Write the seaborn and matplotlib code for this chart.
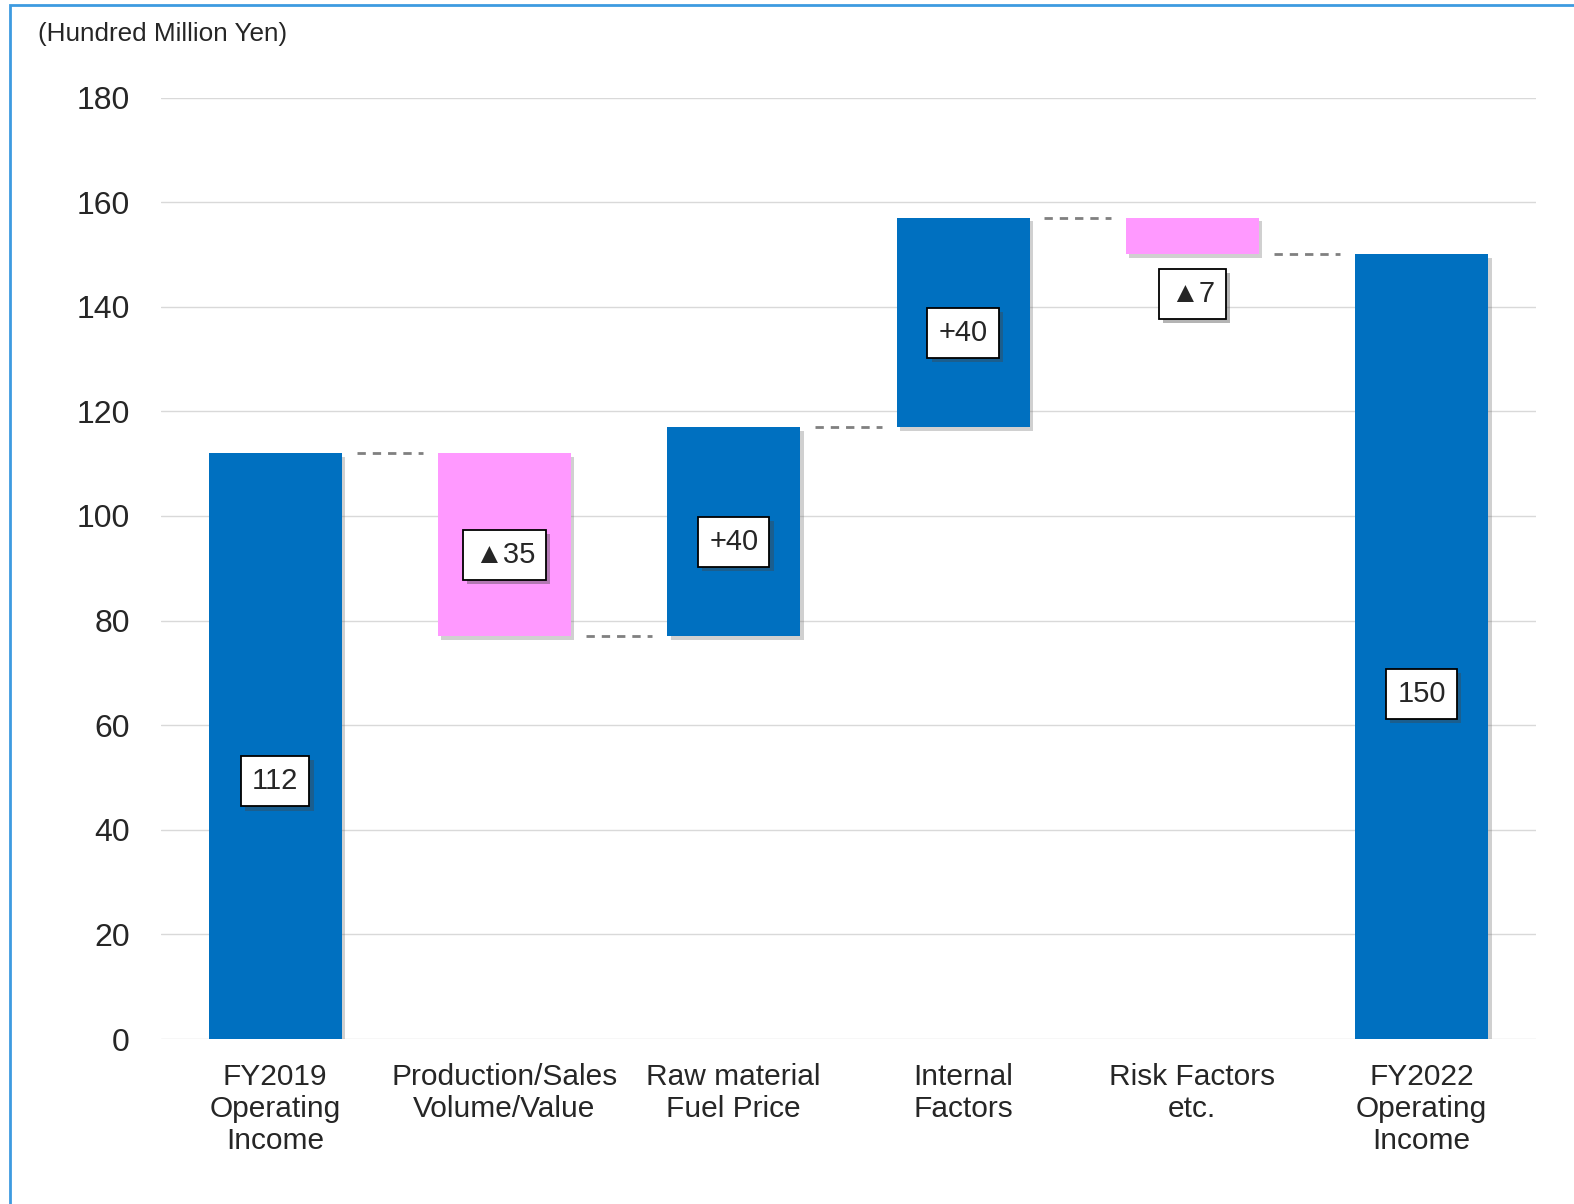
import matplotlib
matplotlib.use('Agg')
import matplotlib.pyplot as plt
import matplotlib.patheffects as pe
from matplotlib.patches import Rectangle
import seaborn as sns
import pandas as pd

# data
categories = ['FY2019\nOperating\nIncome', 'Production/Sales\nVolume/Value',
              'Raw material\nFuel Price', 'Internal\nFactors', 'Risk Factors\netc.',
              'FY2022\nOperating\nIncome']
changes = [112, -35, 40, 40, -7, 150]
is_total = [True, False, False, False, False, True]
labels = ['112', '▲35', '+40', '+40', '▲7', '150']
yticks = [0, 20, 40, 60, 80, 100, 120, 140, 160, 180]

BLUE = '#0070C0'
PINK = '#FF99FF'

# waterfall bases
bottoms, tops = [], []
running = 0
for v, tot in zip(changes, is_total):
    if tot:
        bottoms.append(0)
        tops.append(v)
        running = v
    else:
        new = running + v
        bottoms.append(min(running, new))
        tops.append(max(running, new))
        running = new
colors = [BLUE if (tot or v > 0) else PINK for v, tot in zip(changes, is_total)]

df = pd.DataFrame({'cat': categories, 'top': tops})

sns.set_style('white')
plt.rcParams['font.family'] = ['Liberation Sans', 'DejaVu Sans']

fig = plt.figure(figsize=(15.74, 12.04), dpi=100)
ax = fig.add_axes([0.102, 0.137, 0.874, 0.782])

sns.barplot(data=df, x='cat', y='top', hue='cat', palette=colors, legend=False,
            width=0.58, saturation=1, ax=ax, zorder=2)

shadow = [pe.SimplePatchShadow(offset=(2.5, -2.5), shadow_rgbFace='#666666', alpha=0.3), pe.Normal()]
for i, p in enumerate(ax.patches[:len(categories)]):
    p.set_y(bottoms[i])
    p.set_height(tops[i] - bottoms[i])
    p.set_linewidth(0)
    p.set_path_effects(shadow)

# connectors
half = 0.58 / 2
gap = 0.065
level = 0
for i in range(len(changes) - 1):
    level = changes[i] if is_total[i] else level + changes[i]
    ax.plot([i + half + gap, i + 1 - half - gap], [level, level], color='#808080',
            lw=2, ls=(0, (3, 2.5)), zorder=1)

# value labels
for i, (lab, b, t) in enumerate(zip(labels, bottoms, tops)):
    if is_total[i]:
        y = t * 0.44
    elif t - b < 10:
        y = b - 7.5
    else:
        y = (b + t) / 2 - 2
    txt = ax.text(i, y, lab, ha='center', va='center', fontsize=21, zorder=5,
                  bbox=dict(boxstyle='square,pad=0.38', fc='white', ec='black', lw=1.3))
    txt.get_bbox_patch().set_path_effects(
        [pe.SimplePatchShadow(offset=(3, -3), shadow_rgbFace='#444444', alpha=0.4), pe.Normal()])

ax.set_ylim(0, 180)
ax.set_xlim(-0.5, 5.5)
ax.set_yticks(yticks)
ax.yaxis.grid(True, color='#d9d9d9', lw=1)
ax.set_axisbelow(True)
for s in ax.spines.values():
    s.set_visible(False)
ax.tick_params(axis='y', length=0, pad=22, labelsize=23)
ax.tick_params(axis='x', length=0, pad=17, labelsize=21.5)
for t in ax.get_xticklabels():
    t.set_linespacing(1.2)
ax.set_xlabel('')
ax.set_ylabel('')

fig.text(0.024, 0.972, '(Hundred Million Yen)', fontsize=18.8, ha='left', va='center')

# frame
fig.patches.append(Rectangle((10 / 1574, -0.1), 1.2, 1.1 - 5 / 1204, transform=fig.transFigure,
                             fill=False, ec='#3D9BE0', lw=2))

fig.savefig('out.png', dpi=100)
